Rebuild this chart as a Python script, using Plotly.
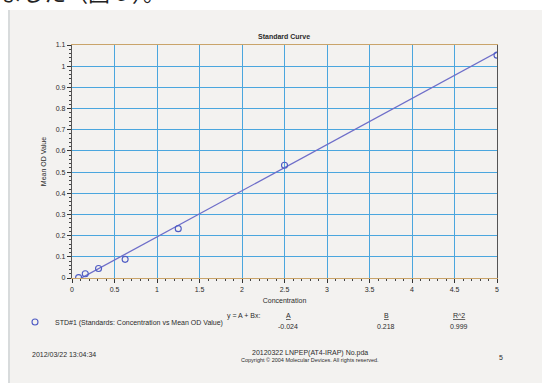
import plotly.graph_objects as go

# ---- data ----
concentration = [0.078, 0.156, 0.3125, 0.625, 1.25, 2.5, 5.0]
mean_od = [0.002, 0.02, 0.045, 0.088, 0.233, 0.532, 1.052]
fit_A = -0.024
fit_B = 0.218
fit_R2 = 0.999
x_ticks = [0, 0.5, 1, 1.5, 2, 2.5, 3, 3.5, 4, 4.5, 5]
x_tick_labels = ["0", "0.5", "1", "1.5", "2", "2.5", "3", "3.5", "4", "4.5", "5"]
y_ticks = [0, 0.1, 0.2, 0.3, 0.4, 0.5, 0.6, 0.7, 0.8, 0.9, 1.0, 1.1]
y_tick_labels = ["0", "0.1", "0.2", "0.3", "0.4", "0.5", "0.6", "0.7", "0.8", "0.9", "1", "1.1"]
series_name = "STD#1 (Standards: Concentration vs Mean OD Value)"

fit_x = [min(concentration), max(concentration)]
fit_y = [fit_A + fit_B * v for v in fit_x]

PAGE = "#f3f2f0"
TXT = "#2b2b2b"
FONT = "Liberation Sans, Arial, sans-serif"

fig = go.Figure()
fig.add_trace(go.Scatter(x=fit_x, y=fit_y, mode="lines",
                         line=dict(color="#6e6ec9", width=1.3),
                         showlegend=False, hoverinfo="skip"))
fig.add_trace(go.Scatter(x=concentration, y=mean_od, mode="markers",
                         name=series_name,
                         marker=dict(symbol="circle-open", size=6,
                                     color="#4f5cc4", line=dict(width=1.1))))

axis_common = dict(
    showgrid=True, gridcolor="#4aa6de", gridwidth=1.3,
    zeroline=False, ticks="outside", ticklen=4, tickcolor="#333",
    tickfont=dict(size=7, color=TXT, family=FONT),
    mirror=True, showline=True, linewidth=1.3,
)

fig.update_xaxes(range=[0, 5], tickvals=x_ticks, ticktext=x_tick_labels,
                 linecolor="#c9a46a",
                 minor=dict(ticks="outside", ticklen=2, dtick=0.1, tickcolor="#444", showgrid=False),
                 title=dict(text="Concentration", font=dict(size=7, color=TXT, family=FONT), standoff=6),
                 **axis_common)
fig.update_yaxes(range=[0, 1.1], tickvals=y_ticks, ticktext=y_tick_labels,
                 linecolor="#555555",
                 minor=dict(ticks="outside", ticklen=2, dtick=0.02, tickcolor="#444", showgrid=False),
                 title=dict(text="Mean OD Value", font=dict(size=7, color=TXT, family=FONT), standoff=8),
                 **axis_common)

ann = []
def A(text, x, y, size=7, xanchor="center", bold=False):
    ann.append(dict(text=("<b>%s</b>" % text) if bold else text, x=x, y=y,
                    xref="paper", yref="paper", xanchor=xanchor, yanchor="middle",
                    showarrow=False, font=dict(size=size, color=TXT, family=FONT)))

# pixel -> paper coordinates (plot area spans x 72..497, y 45..278)
def px(xp):
    return (xp - 72) / 425.0
def py(yp):
    return (278 - yp) / 233.0

A("Standard Curve", px(284), py(37), size=7, bold=True)
A("y = A + Bx:", px(244), py(316))
A("<u>A</u>", px(288), py(315))
A("%.3f" % fit_A, px(288), py(326))
A("<u>B</u>", px(386), py(315))
A("%.3f" % fit_B, px(386), py(326))
A("<u>R^2</u>", px(459), py(315))
A("%.3f" % fit_R2, px(459), py(326))
A("2012/03/22 13:04:34", px(64), py(354))
A("20120322 LNPEP(AT4-IRAP) No.pda", px(310), py(353))
A("Copyright © 2004 Molecular Devices. All rights reserved.", px(310), py(360), size=5.5)
A("5", px(501), py(357))

# Japanese caption text above the scan, its top cut off by the image edge
ann.append(dict(text="しました（図６）。", x=px(-24), y=py(9), xref="paper", yref="paper",
                xanchor="left", yanchor="bottom", showarrow=False,
                font=dict(size=22, color="#222", family="Noto Sans CJK JP")))

shapes = [
    dict(type="rect", xref="paper", yref="paper", x0=px(-5), x1=px(560), y0=py(10), y1=py(-20),
         fillcolor="white", line=dict(width=0), layer="below"),
    dict(type="rect", xref="paper", yref="paper", x0=px(-5), x1=px(8), y0=py(400), y1=py(-20),
         fillcolor="white", line=dict(width=0), layer="below"),
    dict(type="line", xref="paper", yref="paper", x0=px(9), x1=px(9), y0=py(400), y1=py(10),
         line=dict(color="#cfd3d6", width=1.5), layer="below"),
]

fig.update_layout(
    width=542, height=383,
    margin=dict(l=72, r=45, t=45, b=105, autoexpand=False),
    paper_bgcolor=PAGE, plot_bgcolor=PAGE,
    font=dict(family=FONT, color=TXT, size=7),
    showlegend=True,
    legend=dict(x=px(15), y=py(322), xanchor="left", yanchor="middle",
                bgcolor="rgba(0,0,0,0)", font=dict(size=7, color=TXT, family=FONT),
                itemwidth=30),
    annotations=ann, shapes=shapes,
)

fig.write_html("out.html", config={"displayModeBar": False},
               post_script="document.body.style.margin='0px';")
